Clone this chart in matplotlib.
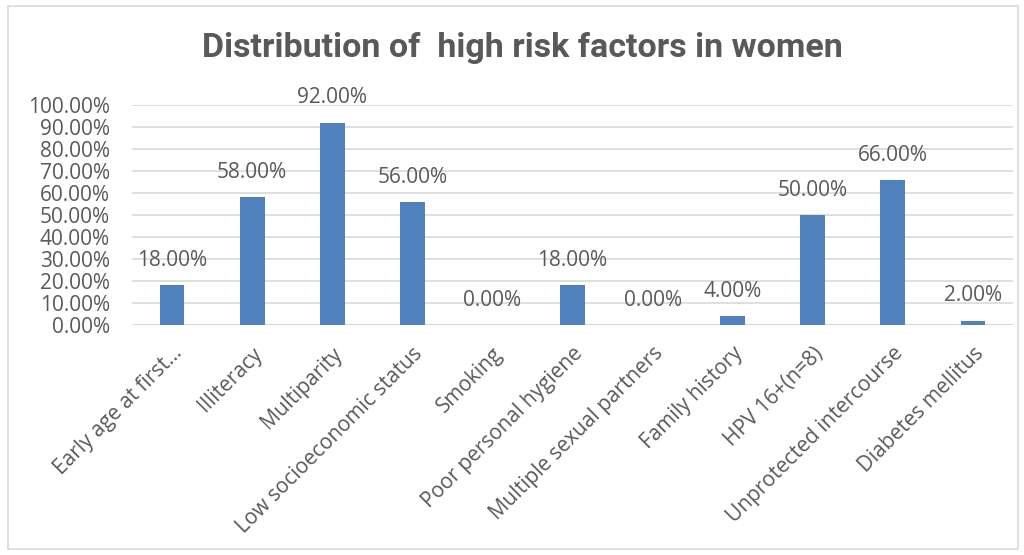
import matplotlib
matplotlib.use("Agg")
import matplotlib.pyplot as plt
from matplotlib.patches import Rectangle
from matplotlib.ticker import FuncFormatter

factors = ["Early age at first...", "Illiteracy", "Multiparity",
           "Low socioeconomic status", "Smoking", "Poor personal hygiene",
           "Multiple sexual partners", "Family history", "HPV 16+(n=8)",
           "Unprotected intercourse", "Diabetes mellitus"]
percent = [18, 58, 92, 56, 0, 18, 0, 4, 50, 66, 2]
yticks = [0, 10, 20, 30, 40, 50, 60, 70, 80, 90, 100]

grey = "#595959"
bar_col = "#4f81bd"
fsize = 15

fig = plt.figure(figsize=(10.24, 5.55), dpi=100)
ax = fig.add_axes([132 / 1024, 1 - 325 / 555, 881 / 1024, 220 / 555])

x = range(len(factors))
ax.bar(x, percent, width=0.31, color=bar_col, zorder=3)
for i, v in enumerate(percent):
    ax.text(i, v + 6.5, "%.2f%%" % v, ha="center", va="bottom",
            fontsize=fsize, color=grey, family="Open Sans")

ax.set_xlim(-0.5, len(factors) - 0.5)
ax.set_ylim(0, 100)
ax.set_yticks(yticks)
ax.yaxis.set_major_formatter(FuncFormatter(lambda v, p: "%.2f%%" % v))
ax.grid(axis="y", color="#d9d9d9", lw=1.2, zorder=0)
ax.set_xticks(list(x))
ax.set_xticklabels(factors, rotation=45, ha="right", rotation_mode="anchor")
ax.tick_params(length=0, labelsize=fsize, labelcolor=grey)
ax.tick_params(axis="y", pad=16)
ax.tick_params(axis="x", pad=13)
for lab in ax.get_xticklabels() + ax.get_yticklabels():
    lab.set_family("Open Sans")
for s in ax.spines.values():
    s.set_visible(False)
ax.axhline(0, color="#d9d9d9", lw=1.2, zorder=2)

fig.text(0.51, 1 - 48 / 555, "Distribution of  high risk factors in women",
         ha="center", va="center", fontsize=24.5, fontweight="bold", color=grey,
         family=["Roboto", "DejaVu Sans"])

# chart border
fig.patches.append(Rectangle((8 / 1024, 6 / 555), 1010 / 1024, 543 / 555,
                             transform=fig.transFigure, fill=False,
                             edgecolor="#d9d9d9", lw=1.2))

fig.savefig("out.png", dpi=100)
